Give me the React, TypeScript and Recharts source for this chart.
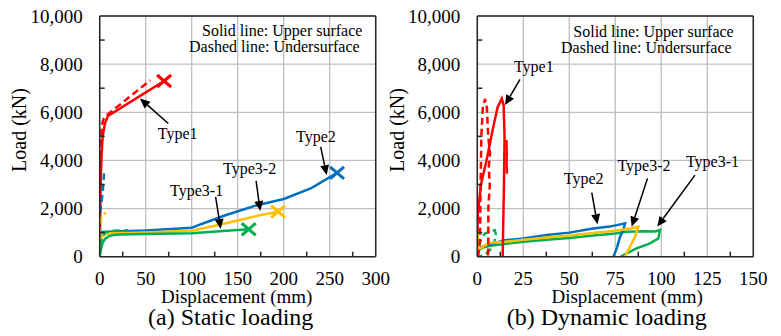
import React from 'react';
import { LineChart, Line, XAxis, YAxis, CartesianGrid, ReferenceLine, ReferenceDot } from 'recharts';

const FONT = 'Times New Roman';
const RED = '#FF0000';
const BLUE = '#0070C0';
const YELLOW = '#FFC000';
const GREEN = '#00B050';
const FRAME = '#262626';
const GRID = '#BFBFBF';

// ---------- ticks ----------
const loadTicks = [0, 2000, 4000, 6000, 8000, 10000];
const loadMinor = [1000, 3000, 5000, 7000, 9000];
const staticTicks = [0, 50, 100, 150, 200, 250, 300];
const staticMinor = [25, 75, 125, 175, 225, 275];
const dynTicks = [0, 25, 50, 75, 100, 125, 150];
const dynMinor = [12.5, 37.5, 62.5, 87.5, 112.5, 137.5];

// ---------- (a) static loading: displacement (mm) / load (kN) ----------
const sT1Ux = [0, 0.3, 1, 2, 3.2, 5.8, 9, 70];
const sT1Uy = [0, 1000, 3000, 4200, 5000, 5550, 5850, 7300];
const sT1Lx = [0, 0.2, 0.5, 1, 2.2, 3.9, 7.6, 55];
const sT1Ly = [0, 2000, 3500, 4500, 5400, 5700, 5880, 7330];
const sT2Ux = [0, 0.5, 3, 50, 100, 110, 135, 170, 200, 230, 258];
const sT2Uy = [0, 1000, 1030, 1090, 1200, 1350, 1700, 2130, 2400, 2850, 3480];
const sT2Lx = [0, 0.2, 0.5, 2, 3.5, 4.7];
const sT2Ly = [0, 1000, 1900, 2250, 2800, 3460];
const sT32Ux = [0, 0.5, 2, 5, 10, 50, 100, 130, 150, 175, 194];
const sT32Uy = [0, 500, 800, 920, 970, 1010, 1080, 1330, 1500, 1730, 1870];
const sT32Lx = [0, 0.2, 0.5, 2.5, 7];
const sT32Ly = [0, 800, 1400, 1750, 1820];
const sT31Ux = [0, 1, 3, 6, 10, 15, 22, 50, 100, 130, 162];
const sT31Uy = [0, 250, 550, 750, 850, 900, 920, 940, 970, 1060, 1140];
const sT31Lx = [0, 1, 3, 6, 12, 31];
const sT31Ly = [0, 500, 850, 1000, 1070, 1100];

// ---------- (b) dynamic loading ----------
const dT1Ux = [0, 0.3, 2, 5, 8.7, 11, 13.3, 14.3, 14.8, 14.5, 14, 13.8];
const dT1Uy = [1000, 1800, 3000, 4000, 5400, 6200, 6570, 6300, 5000, 3000, 1000, 0];
const dT1Wx = [15.8, 16, 15.9, 16.1];
const dT1Wy = [4850, 4300, 3900, 3450];
const dT1Lx = [0.5, 1.5, 1.8, 2.2, 3, 4.2, 5.2, 5.8, 6.2, 6.9, 6.2, 6.8, 6, 6, 5.8];
const dT1Ly = [0, 800, 3000, 5000, 6200, 6550, 6200, 5200, 4800, 4300, 3700, 3000, 2000, 800, 0];
const dT2Ux = [0, 0.3, 2, 7, 15, 25, 37.7, 50, 63, 72, 80.3, 79.3, 77.6, 76, 74];
const dT2Uy = [0, 350, 400, 520, 680, 760, 900, 1000, 1170, 1250, 1385, 1110, 830, 400, 0];
const dT32Ux = [0, 0.2, 0.6, 3, 7, 15, 25, 37.7, 50, 63, 75, 84, 87.5, 85.7, 83, 80.3];
const dT32Uy = [0, 1250, 300, 420, 580, 620, 700, 800, 880, 980, 1080, 1180, 1245, 830, 415, 0];
const dT31Ux = [0, 0.5, 3, 7, 15, 25, 37.7, 50, 63, 75, 81, 90, 96.6, 99.3, 98.4, 93.9, 86.6, 81.2, 78];
const dT31Uy = [0, 250, 380, 450, 530, 620, 700, 780, 880, 960, 1040, 1060, 1050, 1110, 760, 555, 350, 140, 0];
const dT31Lx = [0, 0.5, 2, 4, 7, 9.5, 10, 9.3, 8, 5, 3, 1];
const dT31Ly = [0, 300, 700, 950, 1050, 1100, 950, 600, 350, 150, 50, 0];

// ---------- annotations (data coordinates) ----------
const sLabels = [
  { text: 'Type1', x: 84.8, y: 4885 },
  { text: 'Type2', x: 235, y: 4748 },
  { text: 'Type3-2', x: 163, y: 3436 },
  { text: 'Type3-1', x: 105.4, y: 2536 },
];
const sArrows = [
  { from: [74.6, 5536], to: [43.8, 6574] },
  { from: [240.2, 4565], to: [246.7, 3390] },
  { from: [170, 3150], to: [174.5, 1900] },
  { from: [126, 2490], to: [131.5, 1150] },
];
const dLabels = [
  { text: 'Type1', x: 30.7, y: 7653 },
  { text: 'Type2', x: 57.8, y: 3021 },
  { text: 'Type3-2', x: 90.6, y: 3573 },
  { text: 'Type3-1', x: 127.8, y: 3710 },
];
const dArrows = [
  { from: [23.2, 7370], to: [15.1, 6300] },
  { from: [62.2, 2660], to: [65.3, 1350] },
  { from: [92.5, 3254], to: [83.9, 1245] },
  { from: [118.3, 3390], to: [97.8, 1250] },
];

type Pt = { x: number; y: number };
const zip = (xs: number[], ys: number[]): Pt[] => xs.map((x, i) => ({ x, y: ys[i] }));

type Series = { key: string; data: Pt[]; color: string; dashed?: boolean };

const staticSeries: Series[] = [
  { key: 's1u', data: zip(sT1Ux, sT1Uy), color: RED },
  { key: 's1l', data: zip(sT1Lx, sT1Ly), color: RED, dashed: true },
  { key: 's2u', data: zip(sT2Ux, sT2Uy), color: BLUE },
  { key: 's2l', data: zip(sT2Lx, sT2Ly), color: BLUE, dashed: true },
  { key: 's32u', data: zip(sT32Ux, sT32Uy), color: YELLOW },
  { key: 's32l', data: zip(sT32Lx, sT32Ly), color: YELLOW, dashed: true },
  { key: 's31u', data: zip(sT31Ux, sT31Uy), color: GREEN },
  { key: 's31l', data: zip(sT31Lx, sT31Ly), color: GREEN, dashed: true },
];
const staticEnds = [
  { x: sT1Ux[sT1Ux.length - 1], y: sT1Uy[sT1Uy.length - 1], color: RED },
  { x: sT2Ux[sT2Ux.length - 1], y: sT2Uy[sT2Uy.length - 1], color: BLUE },
  { x: sT32Ux[sT32Ux.length - 1], y: sT32Uy[sT32Uy.length - 1], color: YELLOW },
  { x: sT31Ux[sT31Ux.length - 1], y: sT31Uy[sT31Uy.length - 1], color: GREEN },
];
const dynSeries: Series[] = [
  { key: 'd31l', data: zip(dT31Lx, dT31Ly), color: GREEN, dashed: true },
  { key: 'd31u', data: zip(dT31Ux, dT31Uy), color: GREEN },
  { key: 'd2u', data: zip(dT2Ux, dT2Uy), color: BLUE },
  { key: 'd32u', data: zip(dT32Ux, dT32Uy), color: YELLOW },
  { key: 'd1l', data: zip(dT1Lx, dT1Ly), color: RED, dashed: true },
  { key: 'd1u', data: zip(dT1Ux, dT1Uy), color: RED },
  { key: 'd1w', data: zip(dT1Wx, dT1Wy), color: RED },
];

const fmt = (v: number) => v.toLocaleString('en-US');
const txtStyle = { fontFamily: FONT };

const XTick = (p: any) => (
  <text x={p.x} y={p.y} dy={13.5} textAnchor="middle" fontSize={19} fill="#000" style={txtStyle}>
    {p.payload?.value}
  </text>
);
const YTick = (p: any) => (
  <text x={p.x} y={p.y} dy={6.5} textAnchor="end" fontSize={19} fill="#000" style={txtStyle}>
    {fmt(p.payload?.value)}
  </text>
);

const ArrowShape = (p: any) => {
  const { x1, y1, x2, y2 } = p;
  if ([x1, y1, x2, y2].some((v) => typeof v !== 'number' || isNaN(v))) return <g />;
  const dx = x2 - x1;
  const dy = y2 - y1;
  const len = Math.hypot(dx, dy) || 1;
  const ux = dx / len;
  const uy = dy / len;
  const hl = 10;
  const hw = 4.5;
  const bx = x2 - ux * hl;
  const by = y2 - uy * hl;
  const pts = `${x2},${y2} ${bx - uy * hw},${by + ux * hw} ${bx + uy * hw},${by - ux * hw}`;
  return (
    <g>
      <line x1={x1} y1={y1} x2={bx} y2={by} stroke="#000" strokeWidth={1.5} />
      <polygon points={pts} fill="#000" />
    </g>
  );
};

const makeCross = (color: string) => (p: any) => {
  const { cx, cy } = p;
  const sx = 7;
  const sy = 6;
  return (
    <g stroke={color} strokeWidth={3} strokeLinecap="butt">
      <line x1={cx - sx} y1={cy - sy} x2={cx + sx} y2={cy + sy} />
      <line x1={cx - sx} y1={cy + sy} x2={cx + sx} y2={cy - sy} />
    </g>
  );
};

const makeLabel = (text: string) => (p: any) => (
  <text x={p.cx} y={p.cy} textAnchor="middle" fontSize={16} fill="#000" style={txtStyle}>
    {text}
  </text>
);

type PanelProps = {
  width: number;
  yWidth: number;
  right: number;
  xMax: number;
  xTicks: number[];
  xMinor: number[];
  series: Series[];
  ends: { x: number; y: number; color: string }[];
  labels: { text: string; x: number; y: number }[];
  arrows: { from: number[]; to: number[] }[];
};

const Panel = ({ width, yWidth, right, xMax, xTicks, xMinor, series, ends, labels, arrows }: PanelProps) => (
  <LineChart width={width} height={336} margin={{ top: 16, right, bottom: 0, left: 0 }}>
    <CartesianGrid stroke={GRID} strokeWidth={1.3} />
    <XAxis
      xAxisId={0}
      dataKey="x"
      type="number"
      domain={[0, xMax]}
      ticks={xTicks}
      interval={0}
      allowDataOverflow
      height={79.3}
      tickLine={false}
      tickSize={6}
      tickMargin={9}
      axisLine={{ stroke: FRAME, strokeWidth: 1.5 }}
      tick={<XTick />}
    />
    <XAxis
      xAxisId="minor"
      type="number"
      dataKey="x"
      domain={[0, xMax]}
      ticks={xMinor}
      interval={0}
      allowDataOverflow
      mirror
      orientation="bottom"
      axisLine={false}
      tickLine={{ stroke: FRAME, strokeWidth: 1.5 }}
      tickSize={5}
      tickFormatter={() => ''}
    />
    <XAxis
      xAxisId="top"
      type="number"
      dataKey="x"
      domain={[0, xMax]}
      ticks={[0, xMax]}
      allowDataOverflow
      mirror
      orientation="top"
      tick={false}
      tickLine={false}
      axisLine={{ stroke: FRAME, strokeWidth: 1.5 }}
    />
    <YAxis
      yAxisId={0}
      type="number"
      domain={[0, 10000]}
      ticks={loadTicks}
      interval={0}
      allowDataOverflow
      width={yWidth}
      tickLine={false}
      tickSize={6}
      tickMargin={11}
      axisLine={{ stroke: FRAME, strokeWidth: 1.5 }}
      tick={<YTick />}
    />
    <YAxis
      yAxisId="minor"
      type="number"
      domain={[0, 10000]}
      ticks={loadMinor}
      interval={0}
      allowDataOverflow
      mirror
      orientation="left"
      axisLine={false}
      tickLine={{ stroke: FRAME, strokeWidth: 1.5 }}
      tickSize={5}
      tickFormatter={() => ''}
    />
    <YAxis
      yAxisId="right"
      type="number"
      domain={[0, 10000]}
      ticks={[0, 10000]}
      allowDataOverflow
      mirror
      orientation="right"
      tick={false}
      tickLine={false}
      axisLine={{ stroke: FRAME, strokeWidth: 1.5 }}
    />
    {series.map((s) => (
      <Line
        key={s.key}
        data={s.data}
        dataKey="y"
        xAxisId={0}
        yAxisId={0}
        type="linear"
        stroke={s.color}
        strokeWidth={2.5}
        strokeDasharray={s.dashed ? '7 4' : undefined}
        dot={false}
        activeDot={false}
        isAnimationActive={false}
      />
    ))}
    {ends.map((e, i) => (
      <ReferenceDot key={`e${i}`} x={e.x} y={e.y} r={1} xAxisId={0} yAxisId={0} shape={makeCross(e.color)} />
    ))}
    {arrows.map((a, i) => (
      <ReferenceLine
        key={`a${i}`}
        xAxisId={0}
        yAxisId={0}
        segment={[
          { x: a.from[0], y: a.from[1] },
          { x: a.to[0], y: a.to[1] },
        ]}
        shape={ArrowShape}
      />
    ))}
    {labels.map((l, i) => (
      <ReferenceDot key={`l${i}`} x={l.x} y={l.y} r={1} xAxisId={0} yAxisId={0} shape={makeLabel(l.text)} />
    ))}
  </LineChart>
);

export default function App() {
  return (
    <div
      style={{
        position: 'absolute',
        left: 0,
        top: 0,
        width: 781,
        height: 336,
        background: '#fff',
        fontFamily: FONT,
      }}
    >
      <div style={{ position: 'absolute', left: 0, top: 0 }}>
        <Panel
          width={390}
          yWidth={99.7}
          right={14.3}
          xMax={300}
          xTicks={staticTicks}
          xMinor={staticMinor}
          series={staticSeries}
          ends={staticEnds}
          labels={sLabels}
          arrows={sArrows}
        />
      </div>
      <div style={{ position: 'absolute', left: 390, top: 0 }}>
        <Panel
          width={391}
          yWidth={87.3}
          right={27.7}
          xMax={150}
          xTicks={dynTicks}
          xMinor={dynMinor}
          series={dynSeries}
          ends={[]}
          labels={dLabels}
          arrows={dArrows}
        />
      </div>
      <svg
        width={781}
        height={336}
        style={{ position: 'absolute', left: 0, top: 0, pointerEvents: 'none', fontFamily: FONT }}
      >
        <text x={26} y={130} fontSize={20} textAnchor="middle" transform="rotate(-90 26 130)" style={txtStyle}>Load (kN)</text>
        <text x={404} y={130} fontSize={20} textAnchor="middle" transform="rotate(-90 404 130)" style={txtStyle}>Load (kN)</text>
        <text x={236.7} y={303} fontSize={19} textAnchor="middle" style={txtStyle}>Displacement (mm)</text>
        <text x={627.2} y={303} fontSize={19} textAnchor="middle" style={txtStyle}>Displacement (mm)</text>
        <text x={230.7} y={325} fontSize={24} textAnchor="middle" style={txtStyle}>(a) Static loading</text>
        <text x={606.7} y={325} fontSize={24} textAnchor="middle" style={txtStyle}>(b) Dynamic loading</text>
        <text x={202} y={36.3} fontSize={16} style={txtStyle}>Solid line: Upper surface</text>
        <text x={189} y={52.3} fontSize={16} style={txtStyle}>Dashed line: Undersurface</text>
        <text x={573.3} y={36.8} fontSize={16} style={txtStyle}>Solid line: Upper surface</text>
        <text x={561} y={52.8} fontSize={16} style={txtStyle}>Dashed line: Undersurface</text>
      </svg>
    </div>
  );
}
